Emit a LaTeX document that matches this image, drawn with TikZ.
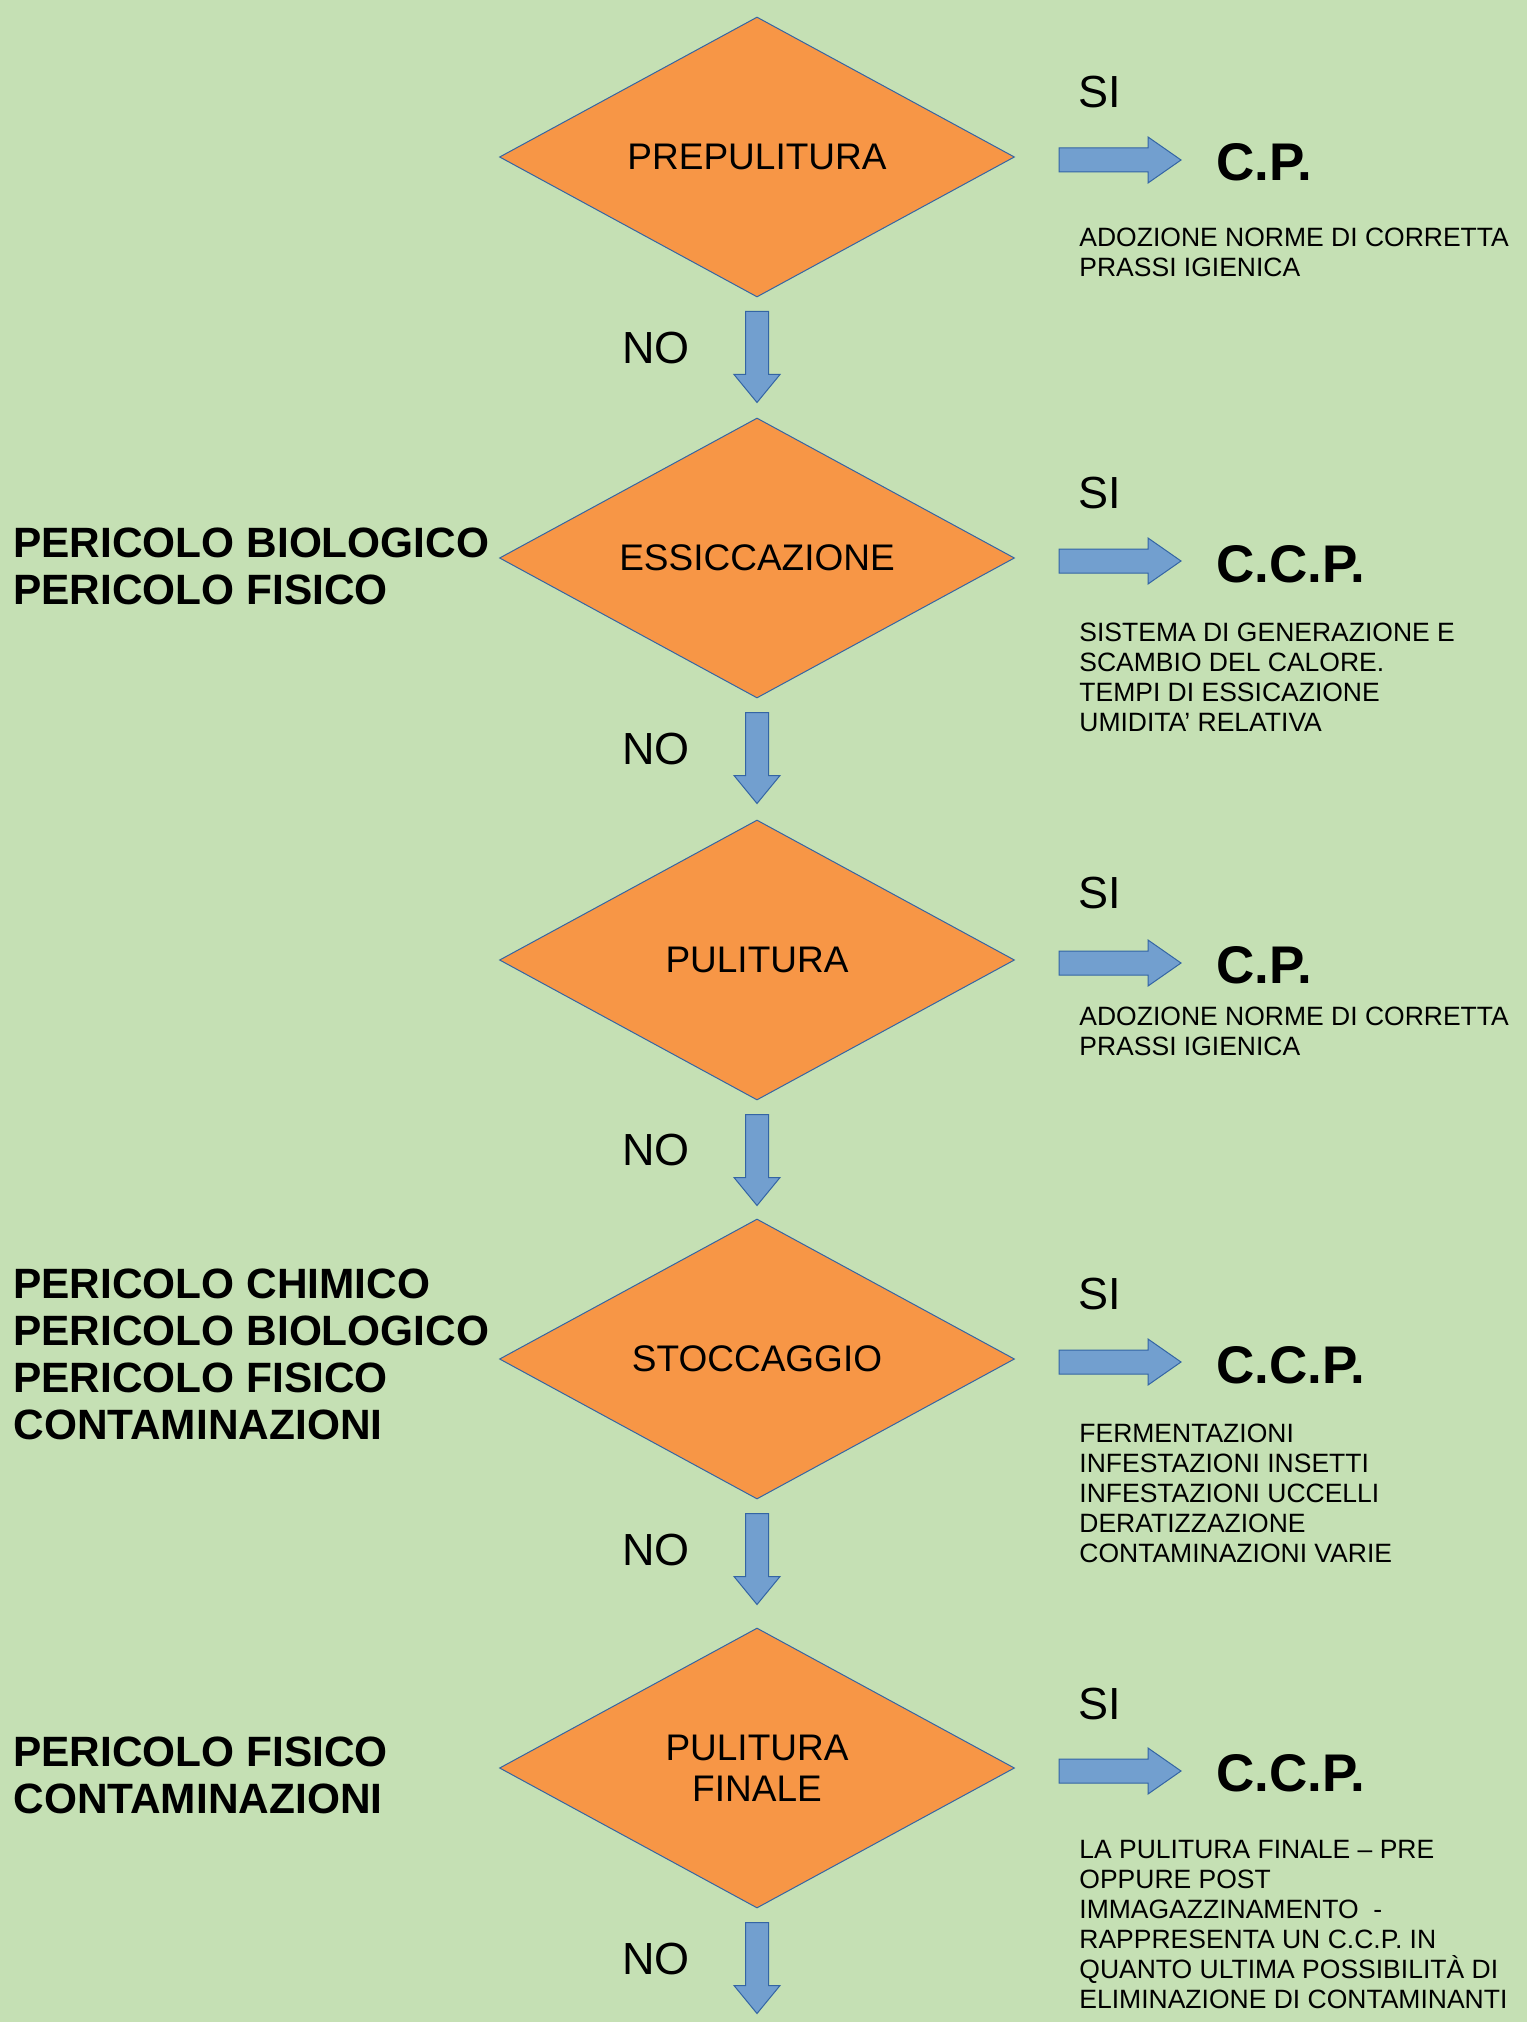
\documentclass[tikz,border=0pt]{standalone}
\usepackage{fontspec}
\setmainfont{Liberation Sans}
\usetikzlibrary{shapes.geometric,calc}

\definecolor{bggreen}{HTML}{C5E0B4}
\definecolor{steporange}{HTML}{F79646}
\definecolor{arrowblue}{HTML}{729FCF}
\definecolor{edgeblue}{HTML}{3465A4}

\tikzset{
  phase/.style={diamond, aspect=1.84, fill=steporange, draw=edgeblue, line width=0.5pt,
    minimum width=257.5pt, minimum height=140pt, inner sep=0pt, align=center,
    font=\fontsize{18.5}{20.5}\selectfont},
  answer/.style={inner sep=0pt, font=\fontsize{22.5}{24}\selectfont},
  control/.style={anchor=west, inner sep=0pt, font=\bfseries\fontsize{26.5}{28}\selectfont},
  note/.style={anchor=north west, inner sep=0pt, align=left, font=\fontsize{13.25}{15}\selectfont},
  hazard/.style={anchor=west, inner sep=0pt, align=left, font=\bfseries\fontsize{21.2}{23.5}\selectfont},
  blockarrow/.style={fill=arrowblue, draw=edgeblue, line width=0.5pt},
}

% block arrow below a phase (NO)
\newcommand{\noarrow}[1]{%
  \draw[blockarrow] ($(#1.south)+(-11.5,14)$) -- ++(23,0) -- ++(0,63) -- ++(11.5,0)
    -- ++(-23,28) -- ++(-23,-28) -- ++(11.5,0) -- cycle;}
% block arrow right of a phase (SI)
\newcommand{\yesarrow}[1]{%
  \draw[blockarrow] ($(#1.east)+(44,-9)$) -- ++(89,0) -- ++(0,-11) -- ++(33,23)
    -- ++(-33,23) -- ++(0,-11) -- ++(-89,0) -- cycle;}

\begin{document}
\begin{tikzpicture}[x=0.5pt,y=-0.5pt]

    % background
    \fill[bggreen] (0,0) rectangle (1527,2022);

    % phases
    \node[phase] (prepul) at (757,157) {PREPULITURA};
    \node[phase] (essic) at (757,558) {ESSICCAZIONE};
    \node[phase] (pulit) at (757,960) {PULITURA};
    \node[phase] (stocc) at (757,1359) {STOCCAGGIO};
    \node[phase] (pulfin) at (757,1768) {PULITURA\\FINALE};

    % hazards
    \node[hazard] (haz2) at (13,566) {PERICOLO BIOLOGICO\\PERICOLO FISICO};
    \node[hazard] (haz4) at (13,1354) {PERICOLO CHIMICO\\PERICOLO BIOLOGICO\\PERICOLO FISICO\\CONTAMINAZIONI};
    \node[hazard] (haz5) at (13,1775) {PERICOLO FISICO\\CONTAMINAZIONI};

    % SI branch
    \node[answer] (si1) at (1100,92) {SI};
    \node[answer] (si2) at (1100,493) {SI};
    \node[answer] (si3) at (1100,893) {SI};
    \node[answer] (si4) at (1100,1294) {SI};
    \node[answer] (si5) at (1100,1704) {SI};

    \node[control] (cp1) at (1216,162) {C.P.};
    \node[control] (cp2) at (1216,564) {C.C.P.};
    \node[control] (cp3) at (1216,965) {C.P.};
    \node[control] (cp4) at (1216,1365) {C.C.P.};
    \node[control] (cp5) at (1216,1773) {C.C.P.};

    \node[note] (nt1) at (1079,228) {ADOZIONE NORME DI CORRETTA\\PRASSI IGIENICA};
    \node[note] (nt2) at (1079,623) {SISTEMA DI GENERAZIONE E\\SCAMBIO DEL CALORE.\\TEMPI DI ESSICAZIONE\\UMIDITA’ RELATIVA};
    \node[note] (nt3) at (1079,1007) {ADOZIONE NORME DI CORRETTA\\PRASSI IGIENICA};
    \node[note] (nt4) at (1079,1424) {FERMENTAZIONI\\INFESTAZIONI INSETTI\\INFESTAZIONI UCCELLI\\DERATIZZAZIONE\\CONTAMINAZIONI VARIE};
    \node[note] (nt5) at (1079,1840) {LA PULITURA FINALE – PRE\\OPPURE POST\\IMMAGAZZINAMENTO\ \ -\\RAPPRESENTA UN C.C.P. IN\\QUANTO ULTIMA POSSIBILITÀ DI\\ELIMINAZIONE DI CONTAMINANTI};

    \yesarrow{prepul}
    \yesarrow{essic}
    \yesarrow{pulit}
    \yesarrow{stocc}
    \yesarrow{pulfin}

    % NO branch
    \node[answer] (no1) at (656,348) {NO};
    \node[answer] (no2) at (656,749) {NO};
    \node[answer] (no3) at (656,1150) {NO};
    \node[answer] (no4) at (656,1550) {NO};
    \node[answer] (no5) at (656,1959) {NO};

    \noarrow{prepul}
    \noarrow{essic}
    \noarrow{pulit}
    \noarrow{stocc}
    \noarrow{pulfin}

\end{tikzpicture}
\end{document}
